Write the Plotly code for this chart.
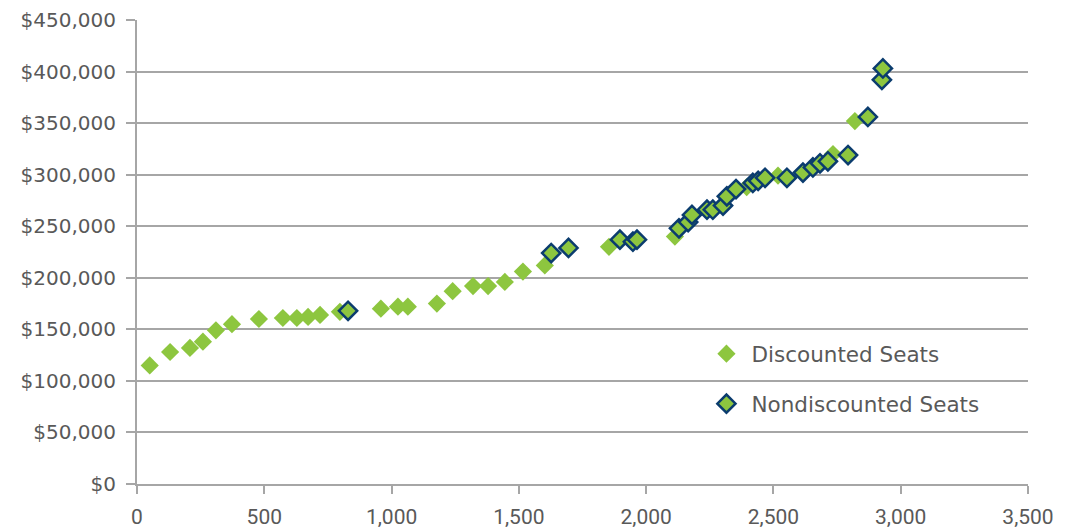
import plotly.graph_objects as go

# Discounted seats: x = seats, y = price
disc_x = [50, 130, 208, 259, 310, 373, 479, 573, 628, 672, 719, 797, 958, 1025, 1064,
          1178, 1240, 1320, 1379, 1445, 1516, 1602, 1854, 2113, 2395, 2518, 2734, 2820]
disc_y = [115000, 128000, 132000, 138000, 149000, 155000, 160000, 161000, 161000, 162000,
          164000, 167000, 170000, 172000, 172000, 175000, 187000, 192000, 192000, 196000,
          206000, 212000, 230000, 240000, 288000, 299000, 320000, 352000]

# Nondiscounted seats
nond_x = [829, 1627, 1695, 1897, 1948, 1964, 2129, 2165, 2180, 2239, 2262, 2302, 2317,
          2353, 2419, 2440, 2467, 2553, 2616, 2655, 2683, 2714, 2793, 2871, 2926, 2930]
nond_y = [168000, 224000, 229000, 237000, 235000, 237000, 248000, 254000, 261000, 266000,
          266000, 270000, 279000, 286000, 292000, 294000, 297000, 297000, 302000, 307000,
          311000, 313000, 319000, 356000, 392000, 403000]

x_ticks = [0, 500, 1000, 1500, 2000, 2500, 3000, 3500]
x_labels = ["0", "500", "1,000", "1,500", "2,000", "2,500", "3,000", "3,500"]
y_ticks = [0, 50000, 100000, 150000, 200000, 250000, 300000, 350000, 400000, 450000]
y_labels = ["$0", "$50,000", "$100,000", "$150,000", "$200,000", "$250,000",
            "$300,000", "$350,000", "$400,000", "$450,000"]

GREEN = "#8dc63f"
NAVY = "#0b3c6e"
GRID = "#a6a6a6"
TEXT = "#595959"

fig = go.Figure()
fig.add_trace(go.Scatter(
    x=disc_x, y=disc_y, mode="markers", name="Discounted Seats", legendgroup="a",
    marker=dict(symbol="diamond", size=14, color=GREEN, line=dict(width=0)),
))
fig.add_trace(go.Scatter(
    x=nond_x, y=nond_y, mode="markers", name="Nondiscounted Seats", legendgroup="b",
    marker=dict(symbol="diamond", size=14, color=GREEN, line=dict(width=2.5, color=NAVY)),
))

# page body has an 8px margin: plot area should land at x 137..1028, y 20..484
fig.update_layout(
    width=1068, height=531,
    margin=dict(l=129, r=48, t=12, b=55),
    plot_bgcolor="white", paper_bgcolor="white",
    font=dict(family="DejaVu Sans, sans-serif", size=20, color=TEXT),
    legend=dict(x=0.6335, y=0.325, xanchor="left", yanchor="top",
                bgcolor="rgba(0,0,0,0)", font=dict(family="DejaVu Sans", size=21.5, color=TEXT),
                traceorder="grouped", tracegroupgap=19, itemsizing="trace", itemwidth=40),
    showlegend=True,
)
fig.update_xaxes(
    range=[0, 3500], tickvals=x_ticks, ticktext=x_labels, showgrid=False,
    tickfont=dict(family="Liberation Sans Narrow, Roboto, sans-serif", size=21, color=TEXT),
    showline=True, linecolor=GRID, linewidth=2, automargin=False,
    ticks="outside", ticklen=8, tickcolor=GRID, tickwidth=1.5, zeroline=False,
    ticklabelstandoff=5,
)
fig.update_yaxes(
    range=[0, 450000], tickvals=y_ticks, ticktext=y_labels,
    tickfont=dict(family="DejaVu Sans", size=20, color=TEXT),
    showgrid=True, gridcolor=GRID, gridwidth=2, automargin=False,
    showline=True, linecolor=GRID, linewidth=2,
    ticks="outside", ticklen=9, tickcolor=GRID, tickwidth=1.5, zeroline=False,
    ticklabelstandoff=6,
)

fig.write_html("out.html")
